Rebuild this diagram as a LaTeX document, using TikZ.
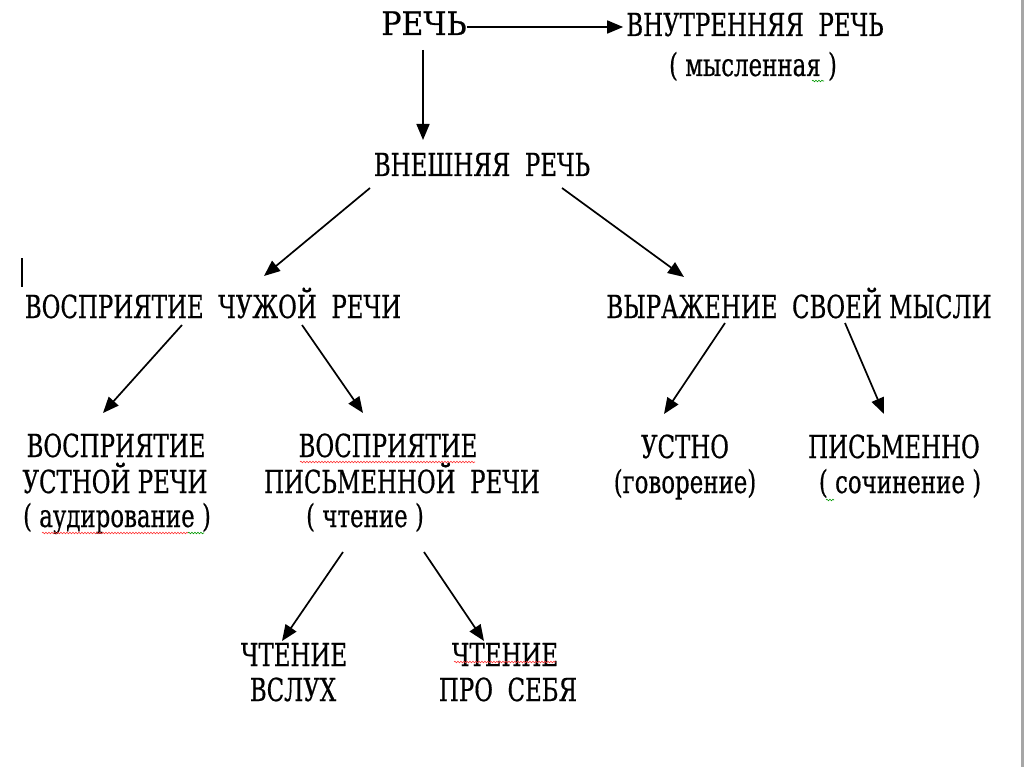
\documentclass[tikz,border=0pt]{standalone}
\usepackage{fontspec}
\setmainfont[FakeBold=0.6]{DejaVu Serif}
\usetikzlibrary{arrows.meta,decorations.pathmorphing}
\newcommand{\TT}[1]{\scalebox{0.88}[1.22]{#1}}
\begin{document}
\begin{tikzpicture}[x=1pt,y=-1pt,
  lbl/.style={anchor=base,inner sep=0pt,font=\fontsize{26}{30}\selectfont},
  arr/.style={line width=1.7pt,-{Triangle[length=16pt,width=13pt]}},
  wavy/.style={line width=0.6pt,decorate,decoration={snake,amplitude=0.8pt,segment length=3pt}}]
\useasboundingbox (0,0) rectangle (1024,767);
\fill[white] (0,0) rectangle (1024,767);
\fill[gray!70] (1021,0) rectangle (1024,767);
% nodes
\node[lbl] (rech) at (424,35) {\scalebox{1.15}[1.25]{РЕЧЬ}};
\node[lbl] (vnutr) at (755,36) {\TT{ВНУТРЕННЯЯ\ \ РЕЧЬ}};
\node[lbl] (mysl) at (753,76) {\TT{( мысленная )}};
\node[lbl] (vnesh) at (482,176) {\TT{ВНЕШНЯЯ\ \ РЕЧЬ}};
\node[lbl] (vospr) at (213,318) {\TT{ВОСПРИЯТИЕ\ \ ЧУЖОЙ\ \ РЕЧИ}};
\node[lbl] (vyraz) at (799,318) {\TT{ВЫРАЖЕНИЕ\ \ СВОЕЙ МЫСЛИ}};
\node[lbl] (vu1) at (116,457) {\TT{ВОСПРИЯТИЕ}};
\node[lbl] (vu2) at (115,493) {\TT{УСТНОЙ РЕЧИ}};
\node[lbl] (vu3) at (117,527) {\TT{( аудирование )}};
\node[lbl] (vp1) at (388,457) {\TT{ВОСПРИЯТИЕ}};
\node[lbl] (vp2) at (402,493) {\TT{ПИСЬМЕННОЙ\ \ РЕЧИ}};
\node[lbl] (vp3) at (365,527) {\TT{( чтение )}};
\node[lbl] (us1) at (685,458) {\TT{УСТНО}};
\node[lbl] (us2) at (685,493) {\TT{(говорение)}};
\node[lbl] (pi1) at (894,458) {\TT{ПИСЬМЕННО}};
\node[lbl] (pi2) at (900,493) {\TT{( сочинение )}};
\node[lbl] (cv1) at (294,666) {\TT{ЧТЕНИЕ}};
\node[lbl] (cv2) at (293,701) {\TT{ВСЛУХ}};
\node[lbl] (cs1) at (505,666) {\TT{ЧТЕНИЕ}};
\node[lbl] (cs2) at (508,701) {\TT{ПРО\ \ СЕБЯ}};
% connector end points
\coordinate (a0) at (0,27);
\coordinate (a1) at (423,50);   \coordinate (b1) at (423,140);
\coordinate (a2) at (370,188);  \coordinate (b2) at (264,276);
\coordinate (a3) at (562,188);  \coordinate (b3) at (684,277);
\coordinate (a4) at (182,325);  \coordinate (b4) at (103,413);
\coordinate (a5) at (302,325);  \coordinate (b5) at (363,413);
\coordinate (a6) at (725,323);  \coordinate (b6) at (664,414);
\coordinate (a7) at (845,323);  \coordinate (b7) at (884,414);
\coordinate (a8) at (343,552);  \coordinate (b8) at (282,641);
\coordinate (a9) at (424,552);  \coordinate (b9) at (484,641);
\draw[arr] (rech.east |- a0) -- ([xshift=-3pt]vnutr.west |- a0);
\draw[arr] (a1) -- (b1);
\draw[arr] (a2) -- (b2);
\draw[arr] (a3) -- (b3);
\draw[arr] (a4) -- (b4);
\draw[arr] (a5) -- (b5);
\draw[arr] (a6) -- (b6);
\draw[arr] (a7) -- (b7);
\draw[arr] (a8) -- (b8);
\draw[arr] (a9) -- (b9);
% text cursor
\draw[line width=1.5pt] (22,258) -- (22,287);
% spell-check underlines
\draw[wavy,red!80] (300,462) -- (475,462);
\draw[wavy,red!80] (42,533) -- (188,533);
\draw[wavy,green!60!black] (188,533) -- (204,533);
\draw[wavy,red!80] (454,662) -- (556,662);
\draw[wavy,green!60!black] (812,81) -- (824,81);
\draw[wavy,green!60!black] (826,500) -- (834,500);
\end{tikzpicture}
\end{document}
